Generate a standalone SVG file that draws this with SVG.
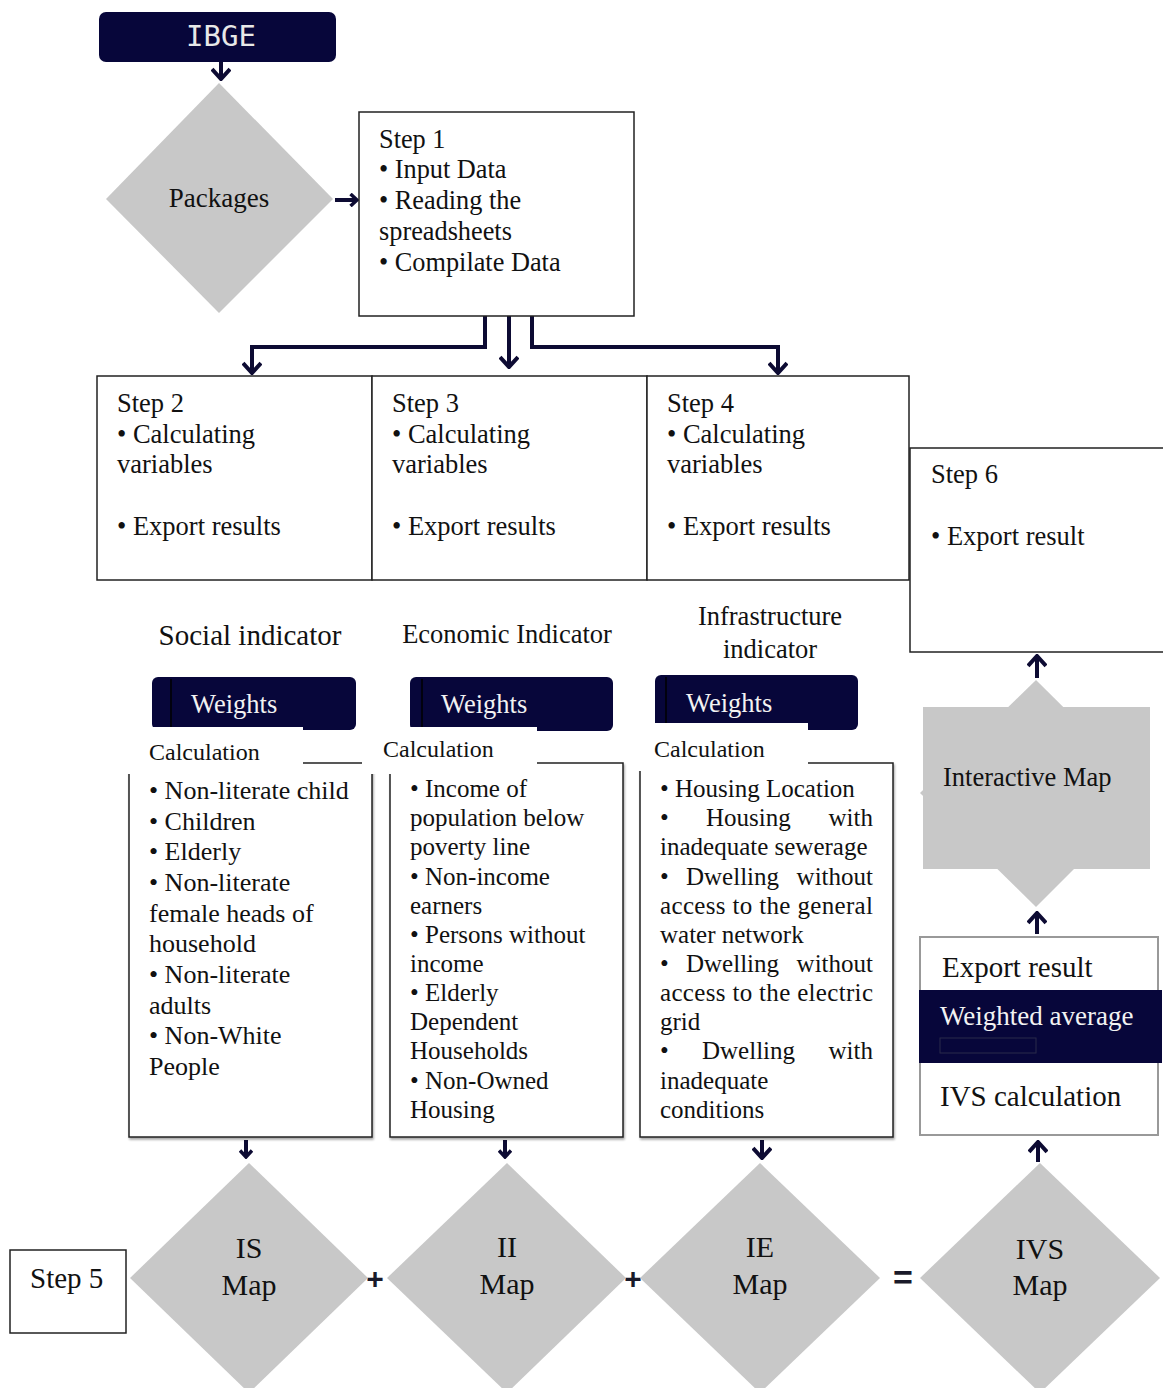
<svg xmlns="http://www.w3.org/2000/svg" width="1163" height="1388" viewBox="0 0 1163 1388">
<defs>
<style>
.t{font-family:"Liberation Serif","Times New Roman",serif;fill:#111;}
.w{font-family:"Liberation Serif","Times New Roman",serif;fill:#f2f2f2;}
.box{fill:#fff;stroke:#222;stroke-width:1.5;}
.gr{fill:#c8c8c8;}
.navy{fill:#07063a;}
.con{fill:none;stroke:#0d0b33;stroke-width:4;}
.op{font-family:"Liberation Sans",Arial,sans-serif;font-weight:bold;fill:#1a1a2a;}
</style>
<marker id="big" viewBox="0 0 14 20" refX="12" refY="10" markerWidth="14" markerHeight="20" orient="auto" markerUnits="userSpaceOnUse">
<path d="M2,1 L12,10 L2,19" fill="none" stroke="#0d0b33" stroke-width="4"/>
</marker>
<marker id="sm" viewBox="0 0 10 14" refX="8" refY="7" markerWidth="10" markerHeight="14" orient="auto" markerUnits="userSpaceOnUse">
<path d="M1.5,1 L8,7 L1.5,13" fill="none" stroke="#0d0b33" stroke-width="3.5"/>
</marker>
<filter id="sh" x="-5%" y="-5%" width="115%" height="115%">
<feDropShadow dx="1" dy="2" stdDeviation="1.2" flood-color="#000" flood-opacity="0.35"/>
</filter>
</defs>
<rect width="1163" height="1388" fill="#fff"/>

<g id="connectors">
<line class="con" x1="221" y1="62" x2="221" y2="79" stroke-width="4" marker-end="url(#big)"/>
<line class="con" x1="335" y1="200" x2="357" y2="200" stroke-width="3.5" marker-end="url(#sm)"/>
<line class="con" x1="509" y1="316" x2="509" y2="367" marker-end="url(#big)"/>
<polyline class="con" points="485,316 485,347 252,347 252,373" marker-end="url(#big)"/>
<polyline class="con" points="532,316 532,347 778,347 778,373" marker-end="url(#big)"/>
<line class="con" x1="246" y1="1140" x2="246" y2="1157" stroke-width="3" marker-end="url(#sm)"/>
<line class="con" x1="505" y1="1140" x2="505" y2="1157" stroke-width="3" marker-end="url(#sm)"/>
<line class="con" x1="762" y1="1140" x2="762" y2="1158" marker-end="url(#big)"/>
<line class="con" x1="1038" y1="1162" x2="1038" y2="1142" marker-end="url(#big)"/>
<line class="con" x1="1037" y1="934" x2="1037" y2="913" marker-end="url(#big)"/>
<line class="con" x1="1037" y1="678" x2="1037" y2="656" marker-end="url(#big)"/>
<text class="op" x="375" y="1289" font-size="30" text-anchor="middle">+</text>
<text class="op" x="633" y="1289" font-size="30" text-anchor="middle">+</text>
<text class="op" x="903" y="1289" font-size="34" text-anchor="middle">=</text>
</g>

<g id="ibge">
<rect x="99" y="12" width="237" height="50" rx="7" class="navy"/>
<text x="221" y="46" font-family="DejaVu Sans Mono,monospace" font-size="29" fill="#e8e8e8" text-anchor="middle">IBGE</text>
</g>

<g id="packages">
<polygon class="gr" points="219,83 333,199 219,313 106,199"/>
<text class="t" x="219" y="207" font-size="27" text-anchor="middle">Packages</text>
</g>

<g id="step1">
<rect class="box" x="359" y="112" width="275" height="204"/>
<text class="t" font-size="26.3"><tspan x="379" y="148">Step 1</tspan><tspan x="379" y="178">• Input Data</tspan><tspan x="379" y="209">• Reading the</tspan><tspan x="379" y="240">spreadsheets</tspan><tspan x="379" y="271">• Compilate Data</tspan></text>
</g>

<g id="step2">
<rect class="box" x="97" y="376" width="275" height="204"/>
<text class="t" font-size="26.5"><tspan x="117" y="412">Step 2</tspan><tspan x="117" y="443">• Calculating</tspan><tspan x="117" y="473">variables</tspan><tspan x="117" y="535">• Export results</tspan></text>
</g>
<g id="step3">
<rect class="box" x="372" y="376" width="275" height="204"/>
<text class="t" font-size="26.5"><tspan x="392" y="412">Step 3</tspan><tspan x="392" y="443">• Calculating</tspan><tspan x="392" y="473">variables</tspan><tspan x="392" y="535">• Export results</tspan></text>
</g>
<g id="step4">
<rect class="box" x="647" y="376" width="262" height="204"/>
<text class="t" font-size="26.5"><tspan x="667" y="412">Step 4</tspan><tspan x="667" y="443">• Calculating</tspan><tspan x="667" y="473">variables</tspan><tspan x="667" y="535">• Export results</tspan></text>
</g>
<g id="step6">
<rect class="box" x="910" y="448" width="260" height="204"/>
<text class="t" font-size="26.5"><tspan x="931" y="483">Step 6</tspan><tspan x="931" y="545">• Export result</tspan></text>
</g>

<g id="labels">
<text class="t" x="250" y="645" font-size="29" text-anchor="middle">Social indicator</text>
<text class="t" x="507" y="643" font-size="26.5" text-anchor="middle">Economic Indicator</text>
<text class="t" x="770" y="625" font-size="26.5" text-anchor="middle">Infrastructure</text>
<text class="t" x="770" y="658" font-size="26.5" text-anchor="middle">indicator</text>
</g>

<g id="social">
<rect x="152" y="677" width="204" height="53" rx="6" class="navy"/>
<line x1="171" y1="679" x2="171" y2="728" stroke="#000" stroke-width="1.5"/>
<text class="w" x="191" y="713" font-size="26.5">Weights</text>
<rect class="box" x="129" y="763" width="243" height="374" filter="url(#sh)"/>
<rect x="126" y="727" width="177" height="47" fill="#fff"/>
<text class="t" x="149" y="760" font-size="24">Calculation</text>
<text class="t" font-size="26"><tspan x="149" y="799">• Non-literate child</tspan><tspan x="149" y="830">• Children</tspan><tspan x="149" y="860">• Elderly</tspan><tspan x="149" y="891">• Non-literate</tspan><tspan x="149" y="922">female heads of</tspan><tspan x="149" y="952">household</tspan><tspan x="149" y="983">• Non-literate</tspan><tspan x="149" y="1014">adults</tspan><tspan x="149" y="1044">• Non-White</tspan><tspan x="149" y="1075">People</tspan></text>
</g>

<g id="economic">
<rect x="410" y="677" width="203" height="54" rx="6" class="navy"/>
<line x1="422" y1="679" x2="422" y2="729" stroke="#000" stroke-width="1.5"/>
<text class="w" x="441" y="713" font-size="26.5">Weights</text>
<rect class="box" x="390" y="763" width="233" height="374" filter="url(#sh)"/>
<rect x="362" y="727" width="175" height="47" fill="#fff"/>
<text class="t" x="383" y="757" font-size="24">Calculation</text>
<text class="t" font-size="25"><tspan x="410" y="797">• Income of</tspan><tspan x="410" y="826">population below</tspan><tspan x="410" y="855">poverty line</tspan><tspan x="410" y="885">• Non-income</tspan><tspan x="410" y="914">earners</tspan><tspan x="410" y="943">• Persons without</tspan><tspan x="410" y="972">income</tspan><tspan x="410" y="1001">• Elderly</tspan><tspan x="410" y="1030">Dependent</tspan><tspan x="410" y="1059">Households</tspan><tspan x="410" y="1089">• Non-Owned</tspan><tspan x="410" y="1118">Housing</tspan></text>
</g>

<g id="infrastructure">
<rect x="655" y="675" width="203" height="55" rx="6" class="navy"/>
<line x1="666" y1="677" x2="666" y2="728" stroke="#000" stroke-width="1.5"/>
<text class="w" x="686" y="712" font-size="26.5">Weights</text>
<rect class="box" x="640" y="763" width="253" height="374" filter="url(#sh)"/>
<rect x="632" y="723" width="176" height="48" fill="#fff"/>
<text class="t" x="654" y="757" font-size="24">Calculation</text>
<g class="t" font-size="25">
<text x="660" y="797">• Housing Location</text>
<text x="660" y="826">•</text><text x="706" y="826">Housing</text><text x="873" y="826" text-anchor="end">with</text>
<text x="660" y="855">inadequate sewerage</text>
<text x="660" y="885">•</text><text x="686" y="885">Dwelling</text><text x="873" y="885" text-anchor="end">without</text>
<text x="660" y="914" textLength="213" lengthAdjust="spacing">access to the general</text>
<text x="660" y="943">water network</text>
<text x="660" y="972">•</text><text x="686" y="972">Dwelling</text><text x="873" y="972" text-anchor="end">without</text>
<text x="660" y="1001" textLength="213" lengthAdjust="spacing">access to the electric</text>
<text x="660" y="1030">grid</text>
<text x="660" y="1059">•</text><text x="702" y="1059">Dwelling</text><text x="873" y="1059" text-anchor="end">with</text>
<text x="660" y="1089">inadequate</text>
<text x="660" y="1118">conditions</text>
</g>
</g>

<g id="interactive-map">
<polygon class="gr" points="1036,680 1150,793 1036,907 920,793"/>
<rect class="gr" x="923" y="707" width="227" height="162"/>
<text class="t" x="943" y="786" font-size="26.5">Interactive Map</text>
</g>

<g id="ivs-calc">
<rect x="920" y="937" width="238" height="198" fill="#fff" stroke="#999" stroke-width="2"/>
<text class="t" x="942" y="977" font-size="29">Export result</text>
<rect x="919" y="990" width="243" height="73" class="navy"/>
<text class="w" x="940" y="1025" font-size="27">Weighted average</text>
<rect x="940" y="1038" width="96" height="15" fill="none" stroke="#2a2a4a" stroke-width="1"/>
<text class="t" x="940" y="1106" font-size="29">IVS calculation</text>
</g>

<g id="step5">
<rect class="box" x="10" y="1250" width="116" height="83"/>
<text class="t" x="30" y="1288" font-size="29">Step 5</text>
</g>

<g id="is-map">
<polygon class="gr" points="249,1163 368,1278 249,1393 130,1278"/>
<text class="t" font-size="30" text-anchor="middle"><tspan x="249" y="1258">IS</tspan><tspan x="249" y="1295">Map</tspan></text>
</g>
<g id="ii-map">
<polygon class="gr" points="507,1163 626,1278 507,1393 387,1278"/>
<text class="t" font-size="30" text-anchor="middle"><tspan x="507" y="1257">II</tspan><tspan x="507" y="1294">Map</tspan></text>
</g>
<g id="ie-map">
<polygon class="gr" points="760,1163 880,1278 760,1393 640,1278"/>
<text class="t" font-size="30" text-anchor="middle"><tspan x="760" y="1257">IE</tspan><tspan x="760" y="1294">Map</tspan></text>
</g>
<g id="ivs-map">
<polygon class="gr" points="1040,1163 1160,1278 1040,1393 920,1278"/>
<text class="t" font-size="30" text-anchor="middle"><tspan x="1040" y="1259">IVS</tspan><tspan x="1040" y="1295">Map</tspan></text>
</g>
</svg>
